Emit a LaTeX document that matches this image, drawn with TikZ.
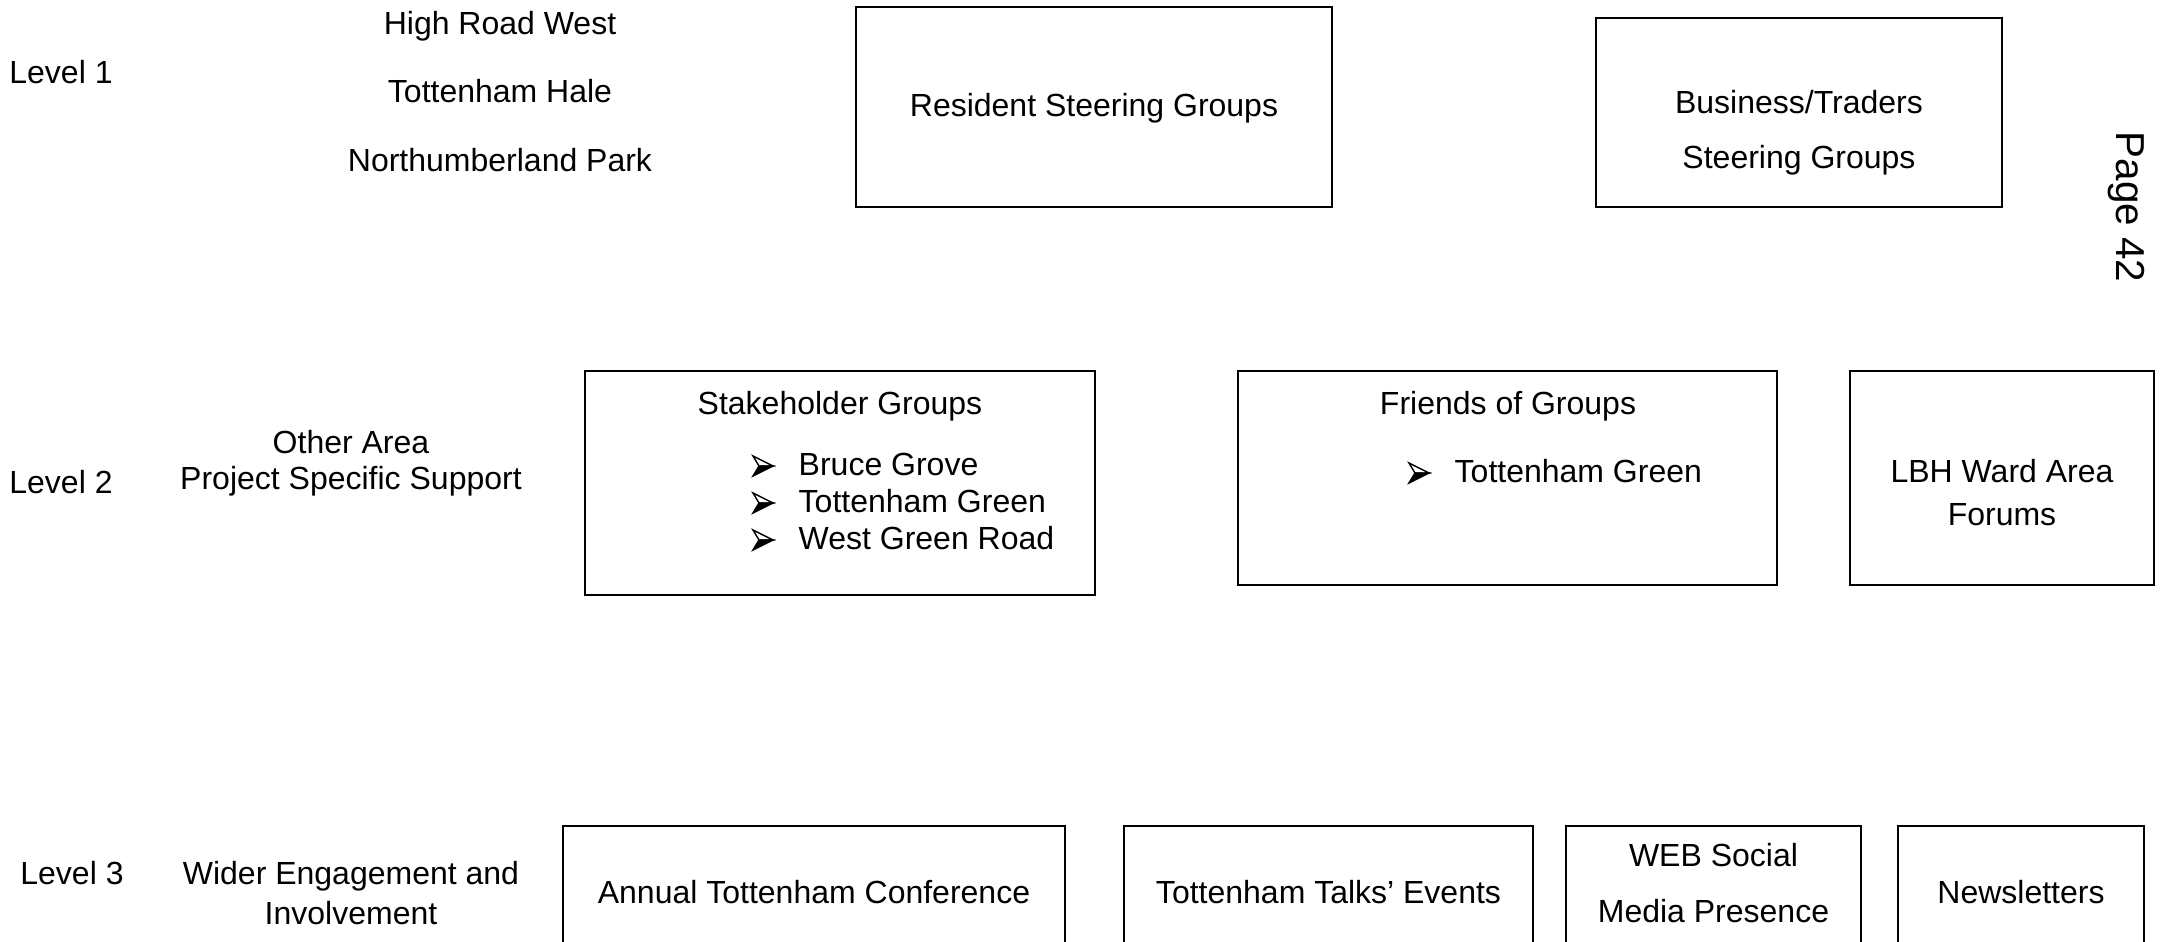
\documentclass[tikz,border=0pt]{standalone}
\usepackage{fontspec}
\setmainfont{Liberation Sans}
\usetikzlibrary{positioning}

% bullet arrowhead, drawn at a named coordinate (base centre)
\newcommand{\bularrow}[1]{%
    \filldraw[line width=0.4pt,fill=white] ([shift={(10,-10)}]#1) -- ([shift={(-10,-20)}]#1) -- ([shift={(-4,-10)}]#1) -- cycle;
    \filldraw[line width=0.4pt] ([shift={(10,-10)}]#1) -- ([shift={(-4,-10)}]#1) -- ([shift={(-10,0)}]#1) -- cycle;}

\begin{document}
\begin{tikzpicture}[x=0.01cm,y=-0.01cm,
        txt/.style={font=\fontsize{9.1}{11}\selectfont,inner sep=0pt,anchor=base},
        box/.style={draw,line width=0.7pt,inner sep=0pt}]
    \useasboundingbox (0,0) rectangle (2165,941);
    \clip (0,0) rectangle (2165,941);

    % level 1
    \node (lvlone) [txt] at (61,83) {Level 1};
    \node (hrw) [txt] at (500,34) {High Road West};
    \node (thale) [txt] at (500,102) {Tottenham Hale};
    \node (npark) [txt] at (500,171) {Northumberland Park};
    \node (resbox) [box,minimum width=4.76cm,minimum height=2.00cm] at (1094,107) {};
    \node (restxt) [txt] at (1094,116) {Resident Steering Groups};
    \node (busbox) [box,minimum width=4.06cm,minimum height=1.89cm] at (1799,112.5) {};
    \node (bustxt) [txt] at (1799,113) {Business/Traders};
    \node (bussteer) [txt] at (1799,168) {Steering Groups};
    \node (pagenum) [font=\fontsize{11.5}{13}\selectfont,inner sep=0pt,rotate=-90] at (2126,207) {Page 42};

    % level 2
    \node (lvltwo) [txt] at (61,493) {Level 2};
    \node (otherarea) [txt] at (351,453) {Other Area};
    \node (projsupp) [txt] at (351,489) {Project Specific Support};
    \node (stakebox) [box,minimum width=5.10cm,minimum height=2.24cm] at (840,483) {};
    \node (staketxt) [txt] at (840,414) {Stakeholder Groups};
    \foreach \name/\yy/\place in {bgrove/475/Bruce Grove,tgreen/512/Tottenham Green,wgroad/549/West Green Road} {
        \node (\name) [txt,anchor=base west] at (798,\yy) {\place};
        \coordinate (\name arr) at (763,\yy+1);
        \bularrow{\name arr}
    }
    \node (friendbox) [box,minimum width=5.39cm,minimum height=2.14cm] at (1507.5,478) {};
    \node (friendtxt) [txt] at (1508,414) {Friends of Groups};
    \node (fgreen) [txt,anchor=base west] at (1454,482) {Tottenham Green};
    \coordinate (fgreenarr) at (1419,483);
    \bularrow{fgreenarr}
    \node (wardbox) [box,minimum width=3.04cm,minimum height=2.14cm] at (2002,478) {};
    \node (wardtxt) [txt] at (2002,482) {LBH Ward Area};
    \node (wardforum) [txt] at (2002,525) {Forums};

    % level 3
    \node (lvlthree) [txt] at (72,884) {Level 3};
    \node (wider) [txt] at (351,884) {Wider Engagement and};
    \node (involve) [txt] at (351,924) {Involvement};
    \node (confbox) [box,minimum width=5.02cm,minimum height=1.74cm] at (814,913) {};
    \node (conftxt) [txt] at (814,903) {Annual Tottenham Conference};
    \node (talkbox) [box,minimum width=4.09cm,minimum height=1.74cm] at (1328.5,913) {};
    \node (talktxt) [txt] at (1328.5,903) {Tottenham Talks’ Events};
    \node (webbox) [box,minimum width=2.95cm,minimum height=1.74cm] at (1713.5,913) {};
    \node (webtxt) [txt] at (1713.5,866) {WEB Social};
    \node (webmedia) [txt] at (1713.5,922) {Media Presence};
    \node (newsbox) [box,minimum width=2.46cm,minimum height=1.74cm] at (2021,913) {};
    \node (newstxt) [txt] at (2021,903) {Newsletters};
\end{tikzpicture}
\end{document}
